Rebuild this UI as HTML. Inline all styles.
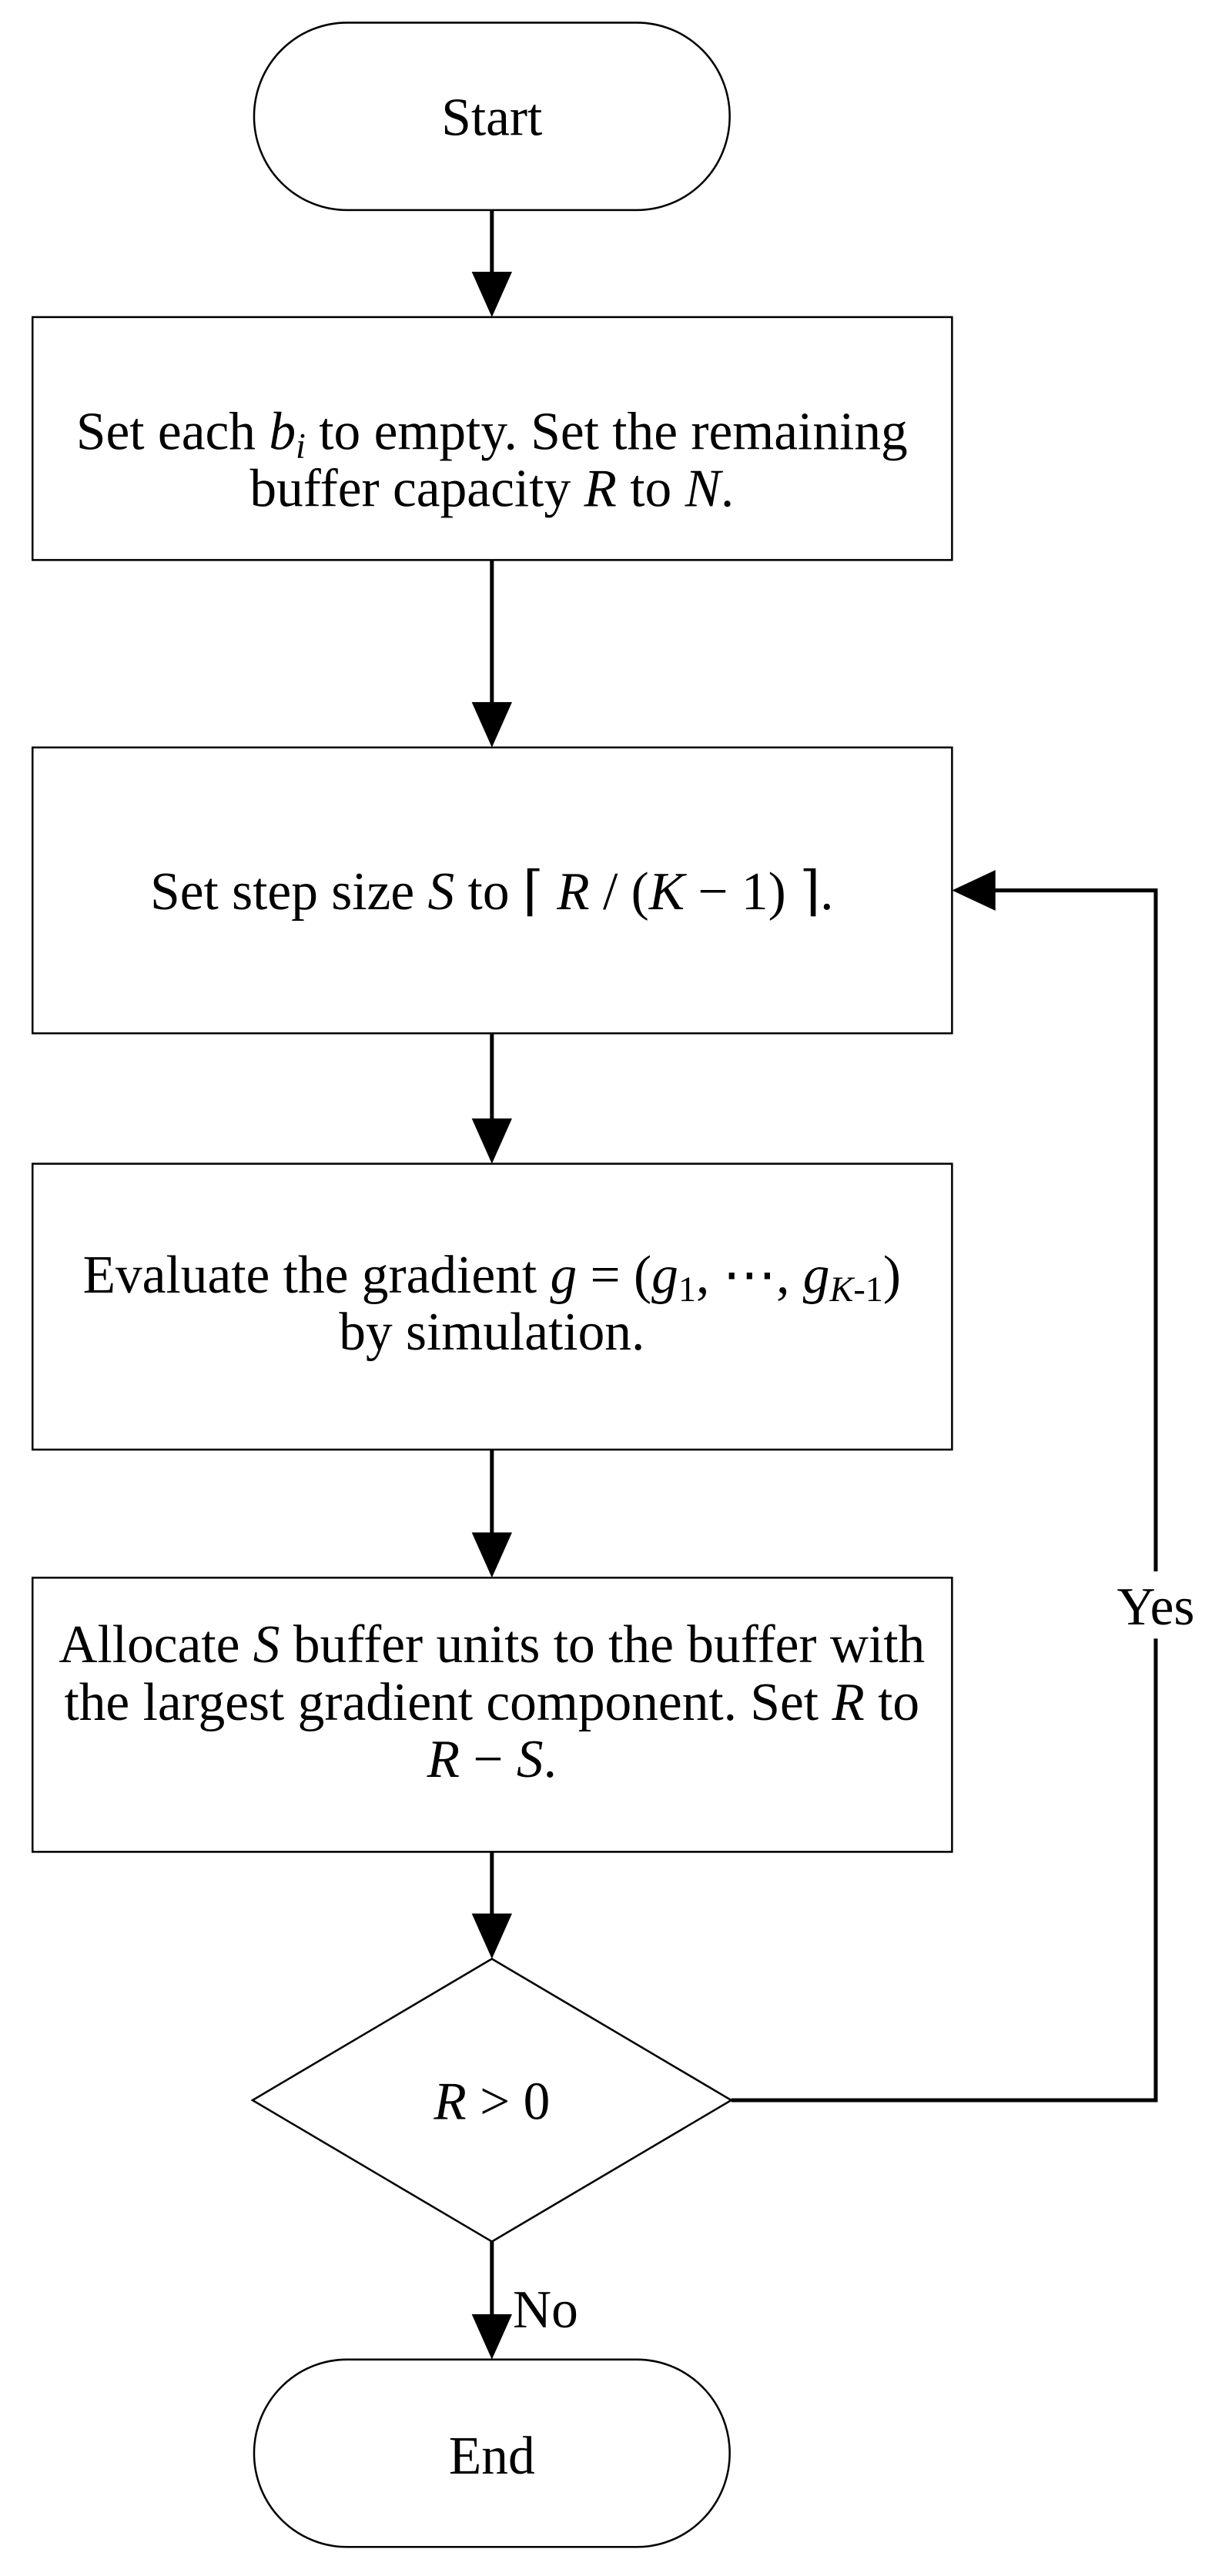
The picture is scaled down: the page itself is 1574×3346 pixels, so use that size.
<!DOCTYPE html>
<html><head><meta charset="utf-8"><style>
html,body{margin:0;padding:0;background:#fff}
svg{display:block}
text{font-family:"Liberation Serif","DejaVu Serif",serif;font-size:69px;fill:#000}
</style></head><body>
<svg width="1574" height="3346" viewBox="0 0 1574 3346" xmlns="http://www.w3.org/2000/svg">
<g transform="scale(1.006,1.0145)">
<g fill="none" stroke="#000" stroke-width="2.5">
<rect x="328" y="29" width="614" height="240" rx="120" ry="120"/>
<rect x="42" y="406" width="1187" height="311"/>
<rect x="42" y="957" width="1187" height="366"/>
<rect x="42" y="1490" width="1187" height="366"/>
<rect x="42" y="2020" width="1187" height="351"/>
<polygon points="635,2508 944,2689 635,2870 326,2689"/>
<rect x="328" y="3021" width="614" height="240" rx="120" ry="120"/>
</g>
<g stroke="#000" stroke-width="5" fill="none">
<line x1="635" y1="269" x2="635" y2="350"/>
<line x1="635" y1="717" x2="635" y2="900"/>
<line x1="635" y1="1323" x2="635" y2="1434"/>
<line x1="635" y1="1856" x2="635" y2="1964"/>
<line x1="635" y1="2371" x2="635" y2="2452"/>
<line x1="635" y1="2870" x2="635" y2="2965"/>
<polyline points="944,2689 1492,2689 1492,2098"/>
<polyline points="1492,2012 1492,1140 1283,1140"/>
</g>
<g fill="#000">
<polygon points="609,348 661,348 635,406"/>
<polygon points="609,899 661,899 635,957"/>
<polygon points="609,1432 661,1432 635,1490"/>
<polygon points="609,1962 661,1962 635,2020"/>
<polygon points="609,2450 661,2450 635,2508"/>
<polygon points="609,2963 661,2963 635,3021"/>
<polygon points="1285,1114 1285,1166 1229,1140"/>
</g>
<text x="635" y="173" text-anchor="middle">Start</text>
<text x="635" y="575" text-anchor="middle">Set each <tspan font-style="italic">b</tspan><tspan font-style="italic" font-size="46" dy="11">i</tspan><tspan dy="-11"> to empty. Set the remaining</tspan></text>
<text x="635" y="648" text-anchor="middle">buffer capacity <tspan font-style="italic">R</tspan> to <tspan font-style="italic">N</tspan>.</text>
<text x="635" y="1164" text-anchor="middle">Set step size <tspan font-style="italic">S</tspan> to ⌈ <tspan font-style="italic">R</tspan> / (<tspan font-style="italic">K</tspan> − 1) ⌉.</text>
<text x="635" y="1655" text-anchor="middle">Evaluate the gradient <tspan font-style="italic">g</tspan> = (<tspan font-style="italic">g</tspan><tspan font-size="46" dy="11">1</tspan><tspan dy="-11">, ⋯, </tspan><tspan font-style="italic">g</tspan><tspan font-size="46" dy="11"><tspan font-style="italic">K</tspan>-1</tspan><tspan dy="-11">)</tspan></text>
<text x="635" y="1728" text-anchor="middle">by simulation.</text>
<text x="635" y="2128" text-anchor="middle">Allocate <tspan font-style="italic">S</tspan> buffer units to the buffer with</text>
<text x="635" y="2202" text-anchor="middle">the largest gradient component. Set <tspan font-style="italic">R</tspan> to</text>
<text x="635" y="2275" text-anchor="middle"><tspan font-style="italic">R</tspan> − <tspan font-style="italic">S</tspan>.</text>
<text x="635" y="2713" text-anchor="middle"><tspan font-style="italic">R</tspan> &gt; 0</text>
<text x="1492" y="2080" text-anchor="middle">Yes</text>
<text x="662" y="2980">No</text>
<text x="635" y="3167" text-anchor="middle">End</text>
</g>
</svg>
</body></html>
